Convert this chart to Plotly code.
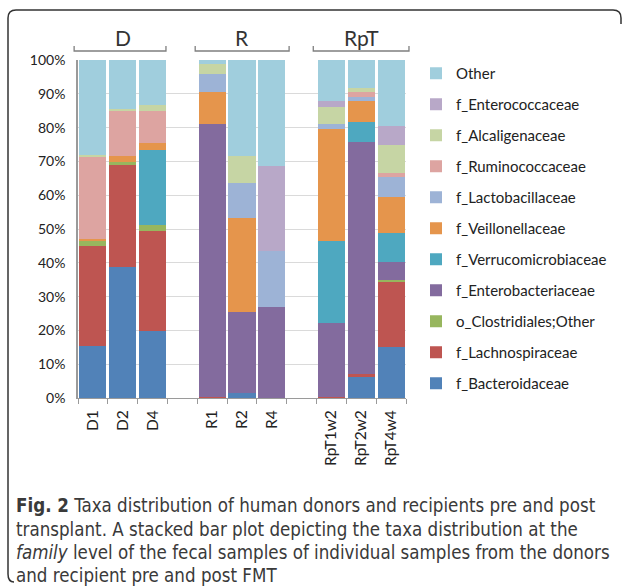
import plotly.graph_objects as go

samples = ["D1", "D2", "D4", " ", "R1", "R2", "R4", "  ", "RpT1w2", "RpT2w2", "RpT4w4"]

# stacked bottom -> top, values in % per sample (None for spacer columns)
f_Bacteroidaceae      = [15.5, 38.8, 19.9, None, 0.0, 1.6, 0.0, None, 0.0, 6.3, 15.0]
f_Lachnospiraceae     = [29.5, 30.4, 29.5, None, 0.3, 0.0, 0.0, None, 0.3, 0.7, 19.4]
o_Clostridiales_Other = [1.6, 0.5, 1.7, None, 0.0, 0.0, 0.0, None, 0.0, 0.0, 0.5]
f_Enterobacteriaceae  = [0.0, 0.0, 0.0, None, 80.7, 23.9, 26.8, None, 22.0, 68.7, 5.4]
f_Verrucomicrobiaceae = [0.0, 0.0, 22.3, None, 0.0, 0.0, 0.0, None, 24.2, 6.1, 8.4]
f_Veillonellaceae     = [0.5, 2.0, 2.0, None, 9.4, 27.7, 0.0, None, 33.0, 6.2, 10.9]
f_Lactobacillaceae    = [0.0, 0.0, 0.0, None, 5.6, 10.3, 16.8, None, 1.5, 1.1, 5.7]
f_Ruminococcaceae     = [24.1, 13.1, 9.6, None, 0.0, 0.0, 0.0, None, 0.0, 1.3, 1.2]
f_Alcaligenaceae      = [0.8, 0.7, 1.7, None, 2.8, 8.2, 0.0, None, 5.2, 1.2, 8.4]
f_Enterococcaceae     = [0.0, 0.0, 0.0, None, 0.0, 0.0, 25.1, None, 1.7, 0.0, 5.7]
Other                 = [28.0, 14.5, 13.3, None, 1.2, 28.3, 31.3, None, 12.1, 8.4, 19.4]

series = [
    ("f_Bacteroidaceae", f_Bacteroidaceae, "#5182B8"),
    ("f_Lachnospiraceae", f_Lachnospiraceae, "#BE5551"),
    ("o_Clostridiales;Other", o_Clostridiales_Other, "#97B65E"),
    ("f_Enterobacteriaceae", f_Enterobacteriaceae, "#836B9E"),
    ("f_Verrucomicrobiaceae", f_Verrucomicrobiaceae, "#4EA8C0"),
    ("f_Veillonellaceae", f_Veillonellaceae, "#E5954C"),
    ("f_Lactobacillaceae", f_Lactobacillaceae, "#9DB3D6"),
    ("f_Ruminococcaceae", f_Ruminococcaceae, "#DDA4A1"),
    ("f_Alcaligenaceae", f_Alcaligenaceae, "#C6D5A4"),
    ("f_Enterococcaceae", f_Enterococcaceae, "#B8A8C8"),
    ("Other", Other, "#A0CEDD"),
]

groups = ["D", "R", "RpT"]
group_center_idx = [1, 5, 9]
group_span_idx = [(-0.63, 2.45), (3.43, 6.58), (7.39, 10.6)]

caption_lines = [
    "<b>Fig. 2</b> Taxa distribution of human donors and recipients pre and post",
    "transplant. A stacked bar plot depicting the taxa distribution at the",
    "<i>family</i> level of the fecal samples of individual samples from the donors",
    "and recipient pre and post FMT",
]

W, H = 627, 586
L, R_, T, B = 78, 406, 60, 398
n = len(samples)

def px(X):
    return (X - L) / (R_ - L)

def py(Y):
    return (B - Y) / (B - T)

def ix(i):
    return (i + 0.5) / n

fig = go.Figure()
for k, (name, vals, col) in enumerate(series):
    fig.add_trace(go.Bar(
        x=samples, y=vals, name=name,
        marker=dict(color=col, line=dict(width=0)),
        legendgroup=name, legendrank=100 - k,
    ))

shapes = []
annotations = []
# group brackets and labels
for g, c, (a, b) in zip(groups, group_center_idx, group_span_idx):
    x0, x1 = ix(a), ix(b)
    yb, yt = py(51), py(46)
    shapes.append(dict(type="path", xref="paper", yref="paper",
                       path=f"M {x0},{yt} L {x0},{yb} L {x1},{yb} L {x1},{yt}",
                       line=dict(color="#7F7F7F", width=1.3)))
    annotations.append(dict(text=g, x=ix(c), y=py(37), xref="paper", yref="paper",
                            showarrow=False, xanchor="center", yanchor="middle",
                            font=dict(family="Lato, Open Sans, sans-serif", size=21, color="#333333")))

# caption
cap_y = [505, 529, 552, 575]
for line, Y in zip(caption_lines, cap_y):
    annotations.append(dict(text=line, x=px(14), y=py(Y), xref="paper", yref="paper",
                            showarrow=False, xanchor="left", yanchor="middle",
                            font=dict(family="DejaVu Sans Condensed, sans-serif",
                                      size=18.6, color="#3A3A3A")))

# rounded frame
r = 8
xl, xr, yt_, yb_ = 8, 621, 10, 582
frame = (f"M {px(xl+6)},{py(yb_)} Q {px(xl)},{py(yb_)} {px(xl)},{py(yb_-8)} "
         f"L {px(xl)},{py(yt_+r)} Q {px(xl)},{py(yt_)} {px(xl+r)},{py(yt_)} "
         f"L {px(xr-r)},{py(yt_)} Q {px(xr)},{py(yt_)} {px(xr)},{py(yt_+r)} L {px(xr)},{py(yt_+14)}")
shapes.append(dict(type="path", xref="paper", yref="paper", path=frame,
                   line=dict(color="#333333", width=1.5)))

fig.update_layout(
    width=W, height=H,
    margin=dict(l=L, r=W - R_, t=T, b=H - B, pad=0, autoexpand=False),
    barmode="stack", bargap=0.09,
    plot_bgcolor="white", paper_bgcolor="white",
    font=dict(family="Lato, Open Sans, sans-serif", color="#222222"),
    showlegend=True,
    legend=dict(traceorder="grouped", x=px(416), xanchor="left", y=py(57), yanchor="top",
                font=dict(size=15, color="#222222"), tracegroupgap=8.5,
                itemwidth=30, bgcolor="rgba(0,0,0,0)", maxheight=560),
    shapes=shapes, annotations=annotations,
    xaxis=dict(type="category", range=[-0.5, n - 0.5], tickangle=-90,
               tickson="boundaries", ticks="outside", ticklen=5, tickcolor="#9A9A9A",
               showline=True, linecolor="#9A9A9A", linewidth=1, ticklabelstandoff=5,
               tickfont=dict(size=15.5, color="#222222"), showgrid=False),
    yaxis=dict(range=[0, 100], tickvals=list(range(0, 101, 10)),
               ticktext=[f"{v}%" for v in range(0, 101, 10)],
               showgrid=True, gridcolor="#DADADA", gridwidth=1,
               showline=True, linecolor="#9A9A9A", linewidth=1.5,
               ticks="", ticklabelstandoff=8, zeroline=False,
               tickfont=dict(size=14, color="#222222")),
)

fig.write_html("out.html")
